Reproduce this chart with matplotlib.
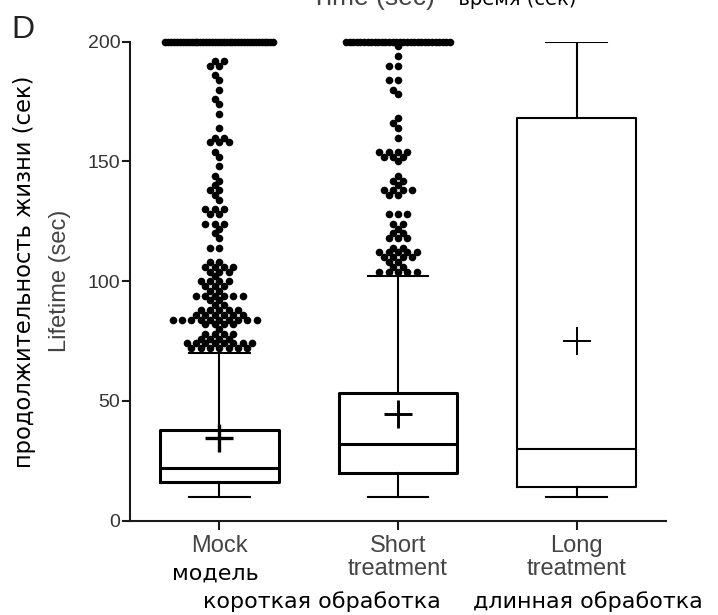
import numpy as np
import matplotlib
matplotlib.use('Agg')
import matplotlib.pyplot as plt

# ---------------- data ----------------
categories = ['Mock', 'Short\ntreatment', 'Long\ntreatment']
categories_ru = ['модель', 'короткая обработка', 'длинная обработка']
yticks = [0, 50, 100, 150, 200]

box_q1 = [16, 20, 14]
box_med = [22, 32, 30]
box_q3 = [38, 53.5, 168]
box_mean = [34.6, 44.4, 75]
whisker_lo = [10, 10, 10]
whisker_hi = [70, 102, 200]

# outlier points (value, count)
mock_values = [200, 192, 190, 186, 184, 180, 176, 174, 170, 164, 160, 158, 154, 152,
               148, 144, 142, 140, 138, 136, 134, 130, 128, 124, 122, 120, 118, 114,
               108, 106, 104, 102, 100, 98, 96, 94, 92, 90, 88, 86, 84, 82, 80, 78,
               76, 74, 72]
mock_counts = [38, 2, 2, 1, 1, 1, 1, 1, 1, 1, 2, 3, 1, 1,
               1, 1, 1, 1, 2, 1, 1, 3, 2, 3, 1, 1, 1, 2,
               2, 4, 3, 1, 4, 3, 2, 6, 2, 2, 5, 6, 10, 4, 1, 4,
               4, 8, 7]

short_values = [200, 198, 194, 190, 184, 180, 178, 168, 166, 164, 160, 154, 152, 150,
                144, 142, 140, 138, 136, 128, 124, 122, 120, 118, 114, 112, 110, 108,
                106, 104]
short_counts = [30, 1, 1, 2, 2, 1, 1, 1, 1, 1, 1, 4, 3, 1,
                1, 2, 1, 4, 2, 3, 2, 1, 2, 3, 2, 5, 4, 2,
                2, 5]

# ---------------- figure ----------------
W, H = 718, 615
fig = plt.figure(figsize=(W / 100, H / 100), dpi=100)
ax_left, ax_bottom_px, ax_top_px, ax_right = 130, 520.7, 41.7, 666
ax = fig.add_axes([ax_left / W, (H - ax_bottom_px) / H,
                   (ax_right - ax_left) / W, (ax_bottom_px - ax_top_px) / H])
ax.set_xlim(-0.5, 2.5)
ax.set_ylim(0, 200)

for s in ['top', 'right']:
    ax.spines[s].set_visible(False)
for s in ['left', 'bottom']:
    ax.spines[s].set_linewidth(1.5)
    ax.spines[s].set_color('#1a1a1a')

EN = ['Liberation Sans', 'DejaVu Sans']
RU = ['DejaVu Sans']
gray = '#444444'

ax.set_yticks(yticks)
ax.set_yticklabels([str(t) for t in yticks], fontsize=14, family=EN, color='#333333')
ax.tick_params(axis='y', direction='out', length=6, width=1.5, pad=1, color='#1a1a1a')
ax.set_xticks([0, 1, 2])
ax.set_xticklabels(categories, fontsize=17, family=EN, color=gray)
ax.tick_params(axis='x', direction='out', length=6.3, width=1.5, pad=4, color='#1a1a1a')
for lbl in ax.get_xticklabels():
    lbl.set_linespacing(1.05)

# boxes
widths = [2.2, 2.2, 1.5]
mean_mew = [2.4, 2.1, 1.4]
for i in range(3):
    st = [dict(med=box_med[i], q1=box_q1[i], q3=box_q3[i], whislo=whisker_lo[i],
               whishi=whisker_hi[i], mean=box_mean[i], fliers=[])]
    ax.bxp(st, positions=[i], widths=0.665, capwidths=0.34, showmeans=True,
           showfliers=False, manage_ticks=False,
           boxprops=dict(lw=widths[i], color='k'),
           medianprops=dict(lw=widths[i], color='k'),
           whiskerprops=dict(lw=1.5, color='k'),
           capprops=dict(lw=1.5, color='k'),
           meanprops=dict(marker='+', markersize=20, markeredgewidth=mean_mew[i],
                          markeredgecolor='k', markerfacecolor='k'))


def swarm(values, counts, center, cap_half_px, a_px=9.3, b_px=5.5):
    p0 = ax.transData.transform((0, 0))
    p1 = ax.transData.transform((1, 1))
    sx, sy = p1[0] - p0[0], p1[1] - p0[1]
    xs, ys, placed = [], [], []
    for v, n in sorted(zip(values, counts)):
        ypx = v * sy
        if n * a_px > 2 * cap_half_px:
            for o in np.linspace(-cap_half_px, cap_half_px, n):
                xs.append(center + o / sx)
                ys.append(v)
            continue
        for _ in range(n):
            near = [(px, ypx - py) for px, py in placed if abs(ypx - py) < b_px]
            cands = [0.0]
            for px, dy in near:
                dx = a_px * np.sqrt(max(0.0, 1 - (dy / b_px) ** 2))
                cands += [px - dx, px + dx]
            cands.sort(key=lambda c: (round(abs(c), 6), c))
            chosen = cands[-1]
            for c in cands:
                if all(((c - px) / a_px) ** 2 + (dy / b_px) ** 2 >= 1 - 1e-9 for px, dy in near):
                    chosen = c
                    break
            placed.append((chosen, ypx))
            xs.append(center + chosen / sx)
            ys.append(v)
    return xs, ys


for ci, (vals, cnts, half) in enumerate([(mock_values, mock_counts, 54),
                                          (short_values, short_counts, 52)]):
    xs, ys = swarm(vals, cnts, ci, half)
    ax.scatter(xs, ys, s=30, color='k', linewidths=0, clip_on=False, zorder=3)

# y labels
fig.text(60 / W, 1 - 281 / H, 'Lifetime (sec)', rotation=90, ha='center', va='center',
         fontsize=17, family=EN, color=gray)
fig.text(25 / W, 1 - 271.5 / H, 'продолжительность жизни (сек)', rotation=90,
         ha='center', va='center', fontsize=16.3, family=RU, color='black')

# russian category labels
fig.text(215 / W, 1 - 580 / H, categories_ru[0], ha='center', va='baseline',
         fontsize=16, family=RU, color='black')
fig.text(322 / W, 1 - 608 / H, categories_ru[1], ha='center', va='baseline',
         fontsize=16, family=RU, color='black')
fig.text(588 / W, 1 - 608 / H, categories_ru[2], ha='center', va='baseline',
         fontsize=16, family=RU, color='black')

# panel letter and cut-off top label
fig.text(11 / W, 1 - 38 / H, 'D', ha='left', va='baseline', fontsize=23,
         family=EN, color='#222222')
fig.text(435 / W, 1 - 5 / H, 'Time (sec)', ha='right', va='baseline', fontsize=19,
         family=EN, color=gray)
fig.text(445 / W, 1 - 5 / H, '- время (сек)', ha='left', va='baseline', fontsize=14,
         family=RU, color='black')

fig.savefig('out.png', dpi=100)
